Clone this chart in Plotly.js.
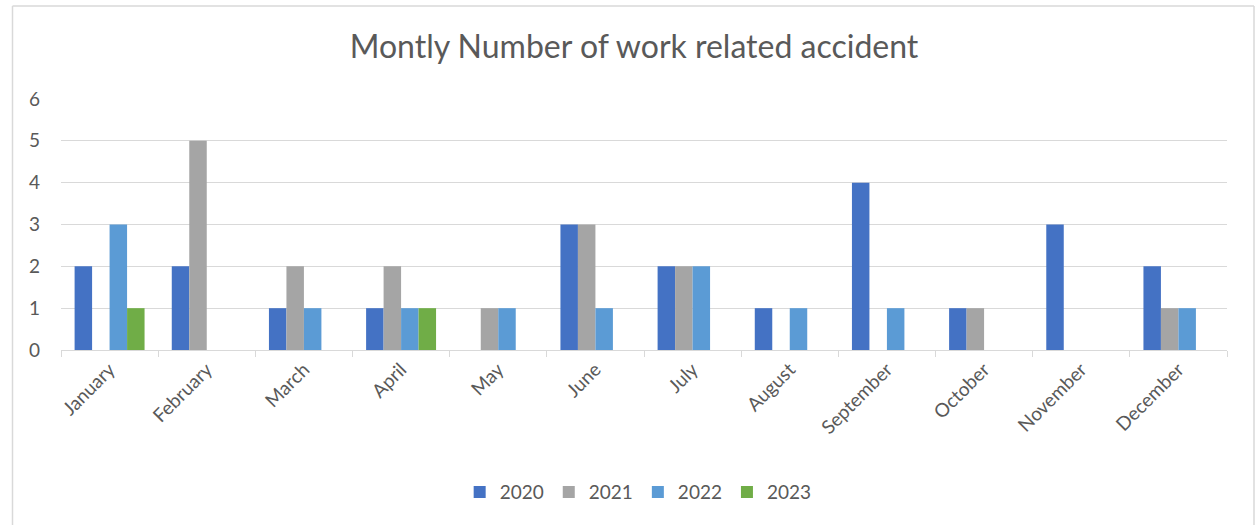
<!DOCTYPE html>
<html>
<head>
<meta charset="utf-8">
<script src="https://cdn.plot.ly/plotly-3.0.1.min.js"></script>
<style>html,body{margin:0;padding:0;background:#fff;}#chart{width:1255px;height:525px;}</style>
</head>
<body>
<div id="chart"></div>
<script>
const months = ["January","February","March","April","May","June","July","August","September","October","November","December"];
const y2020 = [2,2,1,1,0,3,2,1,4,1,3,2];
const y2021 = [0,5,2,2,1,3,2,0,0,1,0,1];
const y2022 = [3,0,1,1,1,1,2,1,1,0,0,1];
const y2023 = [1,0,0,1,0,0,0,0,0,0,0,0];
const seriesNames = ["2020","2021","2022","2023"];
const colors = ["#4472C4","#A5A5A5","#5B9BD5","#70AD47"];
const seriesValues = [y2020,y2021,y2022,y2023];

const FONT = "Lato, 'Open Sans', sans-serif";
const data = seriesValues.map((v,i)=>({
  type:'bar', name:seriesNames[i], x:months, y:v,
  marker:{color:colors[i], line:{width:0}},
  hoverinfo:'x+y+name'
}));

const plotL=61, plotR=1227, plotT=99.3, plotB=350;
const W=plotR-plotL, H=plotB-plotT;
const px = x => (x-plotL)/W;
const py = y => (plotB-y)/H;
const border = '#D9D9D9';

const layout = {
  width:1255, height:525,
  margin:{l:plotL, r:1255-plotR, t:plotT, b:525-plotB, pad:0},
  paper_bgcolor:'#fff', plot_bgcolor:'#fff',
  title:{text:"Montly Number of work related accident", font:{family:FONT, size:32, color:'#595959'},
         x:px(634), xanchor:'center', y:1-47/525, yanchor:'middle', xref:'paper', yref:'container'},
  barmode:'group', bargap:0.28, bargroupgap:0,
  xaxis:{type:'category', tickangle:-45, tickfont:{family:FONT, size:19, color:'#595959'},
         showline:true, linecolor:border, linewidth:1, ticks:'outside', tickson:'boundaries',
         ticklen:6, tickcolor:border, showgrid:false, zeroline:false, fixedrange:true},
  yaxis:{range:[0,6], dtick:1, tickfont:{family:FONT, size:19, color:'#595959'},
         showgrid:true, gridcolor:border, gridwidth:1, zeroline:false, showline:false,
         ticks:'', ticklabelstandoff:20, fixedrange:true},
  showlegend:true,
  legend:{orientation:'h', x:0.495, xanchor:'center', y:py(492), yanchor:'middle',
          font:{family:FONT, size:19, color:'#595959'}, itemwidth:30, traceorder:'normal'},
  shapes:[
    {type:'line', xref:'paper', yref:'paper', x0:px(12.5), x1:px(12.5), y0:py(6.5), y1:py(530), line:{color:border, width:1.5}},
    {type:'line', xref:'paper', yref:'paper', x0:px(12.5), x1:px(1254), y0:py(6.5), y1:py(6.5), line:{color:border, width:1.5}},
    {type:'line', xref:'paper', yref:'paper', x0:px(1254), x1:px(1254), y0:py(6.5), y1:py(530), line:{color:border, width:1.5}}
  ]
};
Plotly.newPlot('chart', data, layout, {displayModeBar:false, responsive:false});
</script>
</body>
</html>
